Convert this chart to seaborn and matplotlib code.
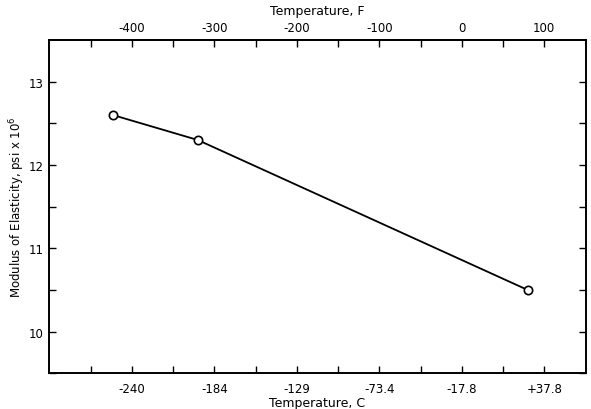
import matplotlib
matplotlib.use('Agg')
import matplotlib.pyplot as plt
import pandas as pd
import seaborn as sns

# data (temperature in F, modulus in psi x 10^6)
temp_f = [-423, -320, 80]
modulus = [12.6, 12.3, 10.5]

# axis ticks
f_ticks = [-400, -300, -200, -100, 0, 100]
f_labels = ['-400', '-300', '-200', '-100', '0', '100']
c_labels = ['-240', '-184', '-129', '-73.4', '-17.8', '+37.8']
minor_f = [-450, -350, -250, -150, -50, 50]
y_ticks = [10, 11, 12, 13]
y_minor = [9.5, 10.5, 11.5, 12.5]

df = pd.DataFrame({'temp_f': temp_f, 'modulus': modulus})

sns.set_style('ticks')
plt.rcParams['font.family'] = ['DejaVu Sans']
plt.rcParams['text.color'] = 'black'
plt.rcParams['axes.labelcolor'] = 'black'

fig = plt.figure(figsize=(5.91, 4.10), dpi=100)
ax = fig.add_axes([0.0834, 0.087, 0.9073, 0.813])

sns.lineplot(data=df, x='temp_f', y='modulus', ax=ax, color='black', linewidth=1.3,
             marker='o', markersize=6, markerfacecolor='white', markeredgecolor='black',
             markeredgewidth=1.2)

ax.set_xlim(-500, 150)
ax.set_ylim(9.5, 13.5)

# bottom axis: Celsius labels at the Fahrenheit positions
ax.set_xticks(f_ticks)
ax.set_xticklabels(c_labels)
ax.set_xticks(minor_f, minor=True)
ax.set_yticks(y_ticks)
ax.set_yticks(y_minor, minor=True)
ax.tick_params(which='both', direction='in', length=5, width=1, colors='black',
               labelsize=8.5, right=True, top=False)
ax.tick_params(axis='x', pad=6)
ax.tick_params(axis='y', pad=4)
ax.set_xlabel('Temperature, C', fontsize=9, labelpad=1, color='black')
ax.set_ylabel('Modulus of Elasticity, psi x 10$^6$', fontsize=8.5, labelpad=1, color='black')

# top axis in Fahrenheit
top = ax.secondary_xaxis('top')
top.set_xticks(f_ticks)
top.set_xticklabels(f_labels)
top.set_xticks(minor_f, minor=True)
top.tick_params(which='both', direction='in', length=5, width=1, colors='black',
                labelsize=8.5, pad=4)
top.set_xlabel('Temperature, F', fontsize=9, labelpad=5, color='black')

for s in ax.spines.values():
    s.set_linewidth(1.4)
    s.set_color('black')
top.spines['top'].set_linewidth(1.4)

fig.savefig('out.png', dpi=100)
